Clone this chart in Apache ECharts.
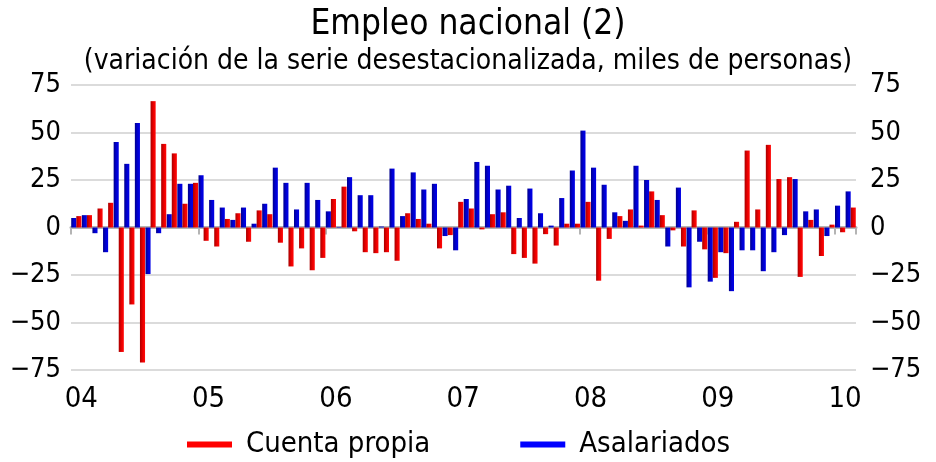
<!DOCTYPE html>
<html>
<head>
<meta charset="utf-8">
<script src="https://cdn.jsdelivr.net/npm/echarts@6/dist/echarts.min.js"></script>
<style>
  html, body { margin: 0; padding: 0; background: #fff; }
  #chart { width: 936px; height: 462px; }
</style>
</head>
<body>
<div id="chart"></div>
<script>
// Monthly categories, January 2004 to February 2010
const months = [
  '2004-01','2004-02','2004-03','2004-04','2004-05','2004-06','2004-07','2004-08','2004-09','2004-10','2004-11','2004-12',
  '2005-01','2005-02','2005-03','2005-04','2005-05','2005-06','2005-07','2005-08','2005-09','2005-10','2005-11','2005-12',
  '2006-01','2006-02','2006-03','2006-04','2006-05','2006-06','2006-07','2006-08','2006-09','2006-10','2006-11','2006-12',
  '2007-01','2007-02','2007-03','2007-04','2007-05','2007-06','2007-07','2007-08','2007-09','2007-10','2007-11','2007-12',
  '2008-01','2008-02','2008-03','2008-04','2008-05','2008-06','2008-07','2008-08','2008-09','2008-10','2008-11','2008-12',
  '2009-01','2009-02','2009-03','2009-04','2009-05','2009-06','2009-07','2009-08','2009-09','2009-10','2009-11','2009-12',
  '2010-01','2010-02'
];

// Asalariados: monthly change, thousands of people
const asalariados = [
  5, 6.5, -3, -13, 45, 33.5, 55, -24.5, -3, 7, 23, 23,
  27.5, 14.5, 10.5, 4, 10.5, 2, 12.5, 31.5, 23.5, 9.5, 23.5, 14.5,
  8.5, 0.3, 26.5, 17, 17, 0.5, 31, 6, 29, 20, 23, -4.5,
  -12, 15, 34.5, 32.5, 20, 22, 5, 20.5, 7.5, 1, 15.5, 30,
  51, 31.5, 22.5, 8, 3.5, 32.5, 25, 14.5, -10, 21, -31.5, -7.5,
  -28.5, -13, -33.5, -12, -12, -23, -13, -4, 25.5, 8.5, 9.5, -4.5,
  11.5, 19
];

// Cuenta propia: monthly change, thousands of people
const cuentaPropia = [
  6, 6.5, 10, 13, -65.5, -40.5, -71, 66.5, 44, 39, 12.5, 23.5,
  -7, -10, 4.5, 7.5, -7.5, 9, 7, -8, -20.5, -11, -22.5, -16,
  15, 21.5, -2, -13, -13.5, -13, -17.5, 7.5, 4.5, 2, -11, -4,
  13.5, 10, -1, 7, 8, -14, -16, -19, -3.5, -9.5, 2, 2,
  13.5, -28, -6, 6, 9.5, 1, 19, 6.5, -1.5, -10, 9, -11.5,
  -26.5, -13.5, 3, 40.5, 9.5, 43.5, 25.5, 26.5, -26, 4, -15, 1.5,
  -2.5, 10.5
];

const seriesNames = ['Cuenta propia', 'Asalariados'];
const yearLabels = ['04', '05', '06', '07', '08', '09', '10'];

const FONT = '"DejaVu Sans Condensed", "DejaVu Sans", sans-serif';

const chart = echarts.init(document.getElementById('chart'), null, { renderer: 'canvas' });

const isYearStart = (i) => i % 12 === 0;
const yLabel = (v) => String(v).replace('-', '\u2212');

const redFill = new echarts.graphic.LinearGradient(0, 0, 1, 0, [
  { offset: 0, color: '#a80000' },
  { offset: 0.6, color: '#f00000' },
  { offset: 1, color: '#ff0a0a' }
]);
const blueFill = new echarts.graphic.LinearGradient(0, 0, 1, 0, [
  { offset: 0, color: '#00008c' },
  { offset: 0.6, color: '#0000d8' },
  { offset: 1, color: '#0000e6' }
]);

chart.setOption({
  animation: false,
  backgroundColor: '#ffffff',
  textStyle: { fontFamily: FONT, color: '#000' },
  title: [
    {
      text: 'Empleo nacional (2)',
      left: 'center',
      top: 2,
      textStyle: { fontFamily: FONT, fontSize: 35, fontWeight: 'normal', color: '#000' }
    },
    {
      text: '(variación de la serie desestacionalizada, miles de personas)',
      left: 'center',
      top: 43,
      textStyle: { fontFamily: FONT, fontSize: 28, fontWeight: 'normal', color: '#000' }
    }
  ],
  legend: {
    bottom: -2,
    left: 182,
    itemWidth: 45,
    itemHeight: 6,
    itemGap: 90,
    icon: 'rect',
    textStyle: { fontFamily: FONT, fontSize: 29, color: '#000', padding: [0, 0, 0, 9] },
    data: [
      { name: seriesNames[0], itemStyle: { color: '#ff0000' } },
      { name: seriesNames[1], itemStyle: { color: '#0000ff' } }
    ]
  },
  grid: { left: 71, right: 80, top: 85, bottom: 92, containLabel: false },
  xAxis: [
    {
      type: 'category',
      data: months,
      position: 'bottom',
      boundaryGap: true,
      axisLine: { show: false },
      axisTick: { show: false },
      splitLine: { show: false },
      axisLabel: {
        interval: isYearStart,
        formatter: (v) => yearLabels[yearLabels.indexOf(v.slice(2, 4))],
        fontFamily: FONT,
        fontSize: 29,
        color: '#000',
        margin: 15,
        padding: [0, 0, 0, 10]
      }
    },
    {
      type: 'category',
      data: months,
      position: 'bottom',
      boundaryGap: true,
      axisLine: { show: true, onZero: true, lineStyle: { color: '#b4b4b4', width: 3 } },
      axisTick: { show: true, interval: isYearStart, length: 7, lineStyle: { color: '#b4b4b4', width: 2 } },
      axisLabel: { show: false },
      splitLine: { show: false }
    }
  ],
  yAxis: [
    {
      type: 'value',
      min: -75,
      max: 75,
      interval: 25,
      position: 'left',
      axisLine: { show: false },
      axisTick: { show: false },
      splitLine: { show: true, lineStyle: { color: '#cfcfcf', width: 1.5 } },
      axisLabel: { formatter: yLabel, fontFamily: FONT, fontSize: 27, color: '#000', margin: 10 }
    },
    {
      type: 'value',
      min: -75,
      max: 75,
      interval: 25,
      position: 'right',
      axisLine: { show: false },
      axisTick: { show: false },
      splitLine: { show: false },
      axisLabel: { formatter: yLabel, fontFamily: FONT, fontSize: 27, color: '#000', margin: 14 }
    }
  ],
  series: [
    {
      name: seriesNames[1],
      type: 'bar',
      xAxisIndex: 0,
      yAxisIndex: 0,
      data: asalariados,
      barGap: '0%',
      barCategoryGap: '4%',
      itemStyle: { color: blueFill }
    },
    {
      name: seriesNames[0],
      type: 'bar',
      xAxisIndex: 0,
      yAxisIndex: 0,
      data: cuentaPropia,
      barGap: '0%',
      barCategoryGap: '4%',
      itemStyle: { color: redFill }
    }
  ]
});
</script>
</body>
</html>
